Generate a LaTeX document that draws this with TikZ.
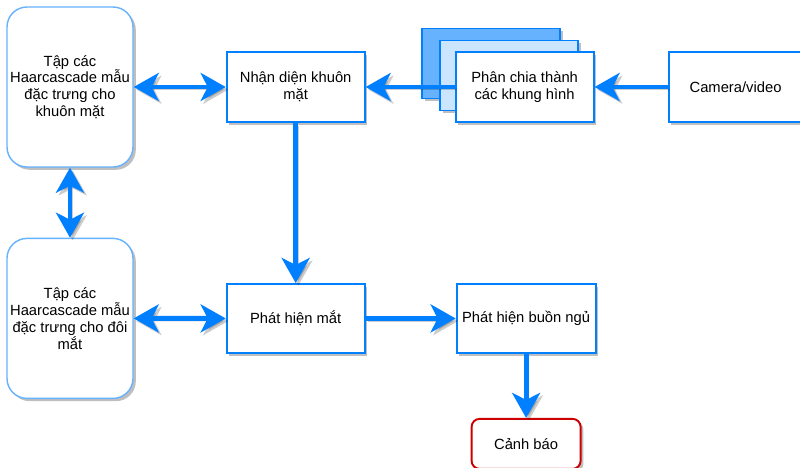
\documentclass[tikz,border=0pt]{standalone}
\usepackage{fontspec}
\setmainfont{Liberation Sans}
\usepackage{tikz}
\usetikzlibrary{arrows.meta,positioning,shadows,backgrounds}
\definecolor{colFlow}{HTML}{007FFF}
\definecolor{colSet}{HTML}{66B2FF}
\definecolor{colBack}{HTML}{66B2FF}
\definecolor{colMid}{HTML}{CCE5FF}
\definecolor{colAlert}{HTML}{CC0000}

\begin{document}
\begin{tikzpicture}[
  shd/.style={drop shadow={shadow xshift=1.6pt, shadow yshift=-1.6pt, opacity=.25, fill=black}},
  box/.style={draw=colFlow, line width=1.1pt, fill=white, minimum width=2.76cm, minimum height=1.4cm,
              align=center, inner sep=1pt, font=\fontsize{8.4}{9.6}\selectfont, shd},
  setbox/.style={draw=colSet, line width=0.8pt, fill=white, rounded corners=0.4cm,
                 minimum width=2.52cm, minimum height=3.2cm, align=center, inner sep=1pt,
                 font=\fontsize{8.4}{9.6}\selectfont, shd},
  alertbox/.style={box, draw=colAlert, rounded corners=0.16cm, minimum width=2.18cm, minimum height=1.0cm},
  arr/.style={line width=2.8pt, draw=colFlow, ->,
              >={Stealth[length=0.5cm, width=0.56cm, inset=0.14cm]},
              preaction={draw=black, opacity=.2, transform canvas={shift={(1.5pt,-1.5pt)}}}},
  darr/.style={arr, <->}
]
  \useasboundingbox (0,0) rectangle (16,-9.36);

  \node[setbox] (haarface) at (1.40,-1.74)
    {Tập các\\Haarcascade mẫu\\đặc trưng cho\\khuôn mặt};
  \node[setbox, below=1.4cm of haarface] (haareye)
    {Tập các\\Haarcascade mẫu\\đặc trưng cho đôi\\mắt};
  \node[box, right=1.84cm of haarface] (detface) {Nhận diện khuôn\\mặt};
  \node[box, right=1.78cm of detface]  (frames)  {Phân chia thành\\các khung hình};
  \node[box, right=1.46cm of frames, minimum width=2.68cm] (camera) {Camera/video};
  \node[box, below=3.2cm of detface, minimum height=1.38cm] (deteye) {Phát hiện mắt};
  \node[box, right=1.8cm of deteye, minimum width=2.78cm, minimum height=1.38cm] (drowsy)
    {Phát hiện buồn ngủ};
  \node[alertbox, below=1.28cm of drowsy] (alert) {Cảnh báo};

  \begin{scope}[on background layer]
    \node[box, fill=colBack] (frameback) at ([shift={(-0.67,0.47)}]frames) {};
    \node[box, fill=colMid]  (framemid)  at ([shift={(-0.31,0.23)}]frames) {};
  \end{scope}

  \draw[arr]  (camera)   -- (frames);
  \draw[arr]  (frames)   -- (detface);
  \draw[darr] (haarface) -- (detface);
  \draw[darr] (haarface) -- (haareye);
  \draw[darr] (haareye)  -- (deteye);
  \draw[arr]  (detface)  -- (deteye);
  \draw[arr]  (deteye)   -- (drowsy);
  \draw[arr]  (drowsy)   -- (alert);
\end{tikzpicture}
\end{document}
